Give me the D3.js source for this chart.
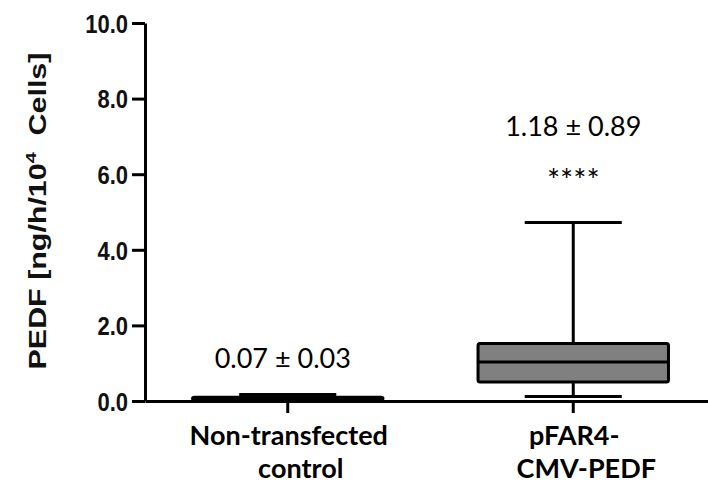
<!DOCTYPE html>
<html lang="en">
<head>
<meta charset="utf-8">
<title>PEDF secretion box plot</title>
<script src="https://d3js.org/d3.v7.min.js"></script>
<style>
  body { margin: 0; background: #fff; }
  svg { display: block; }
  .axis path, .axis line { stroke: #000; stroke-width: 3; }
  .axis text { font-family: "Liberation Sans", Arial, sans-serif; font-weight: bold; font-size: 22px; fill: #111; }
  .calib { font-family: Lato, "Open Sans", sans-serif; fill: #000; }
</style>
</head>
<body>
<script>
const width = 708, height = 485;

// data
const groups = ["Non-transfected control", "pFAR4-CMV-PEDF"];
const labelLines = [["Non-transfected", "control"], ["pFAR4-", "CMV-PEDF"]];
const whiskerLow = [0.01, 0.12];
const q1 = [0.03, 0.50];
const median = [0.06, 1.03];
const q3 = [0.10, 1.52];
const whiskerHigh = [0.17, 4.72];
const meanSd = ["0.07 ± 0.03", "1.18 ± 0.89"];
const signif = ["", "****"];
const yTicks = [0, 2, 4, 6, 8, 10];

const plotLeft = 145, plotBottom = 401, plotTop = 23;

const svg = d3.select("body").append("svg")
  .attr("width", width).attr("height", height);

const x = d3.scaleBand().domain(groups).range([plotLeft, 716]).padding(0);
const y = d3.scaleLinear().domain([0, 10]).range([plotBottom, plotTop]);

const bw = x.bandwidth();
const cx = g => x(g) + bw / 2;

// axes
svg.append("g").attr("class", "axis")
  .attr("transform", `translate(0,${plotBottom})`)
  .call(d3.axisBottom(x).tickSize(12).tickSizeOuter(0).tickFormat(""));

const yAxis = svg.append("g").attr("class", "axis")
  .attr("transform", `translate(${plotLeft},0)`)
  .call(d3.axisLeft(y).tickValues(yTicks).tickSize(13).tickSizeOuter(0).tickPadding(4).tickFormat(d3.format(".1f")));
// taller, narrow digits like the original
yAxis.selectAll(".tick text")
  .attr("dy", null)
  .attr("dominant-baseline", "central")
  .attr("transform", function() { return `translate(${this.getAttribute("x")},0) scale(1,1.2)`; })
  .attr("x", 0);

// boxes
const data = groups.map((g, i) => ({g, lo: whiskerLow[i], q1: q1[i], med: median[i], q3: q3[i], hi: whiskerHigh[i]}));
const boxW = bw * 0.667, capW = bw * 0.34;
const box = svg.append("g").selectAll("g").data(data).join("g");

box.append("line")
  .attr("x1", d => cx(d.g)).attr("x2", d => cx(d.g))
  .attr("y1", d => y(d.lo)).attr("y2", d => y(d.hi))
  .attr("stroke", "#000").attr("stroke-width", 3);
box.selectAll(".cap").data(d => [d.lo, d.hi].map(v => ({g: d.g, v}))).join("line")
  .attr("x1", d => cx(d.g) - capW / 2).attr("x2", d => cx(d.g) + capW / 2)
  .attr("y1", d => y(d.v)).attr("y2", d => y(d.v))
  .attr("stroke", "#000").attr("stroke-width", 3);
box.append("rect")
  .attr("x", d => cx(d.g) - boxW / 2).attr("width", boxW)
  .attr("y", d => y(d.q3)).attr("height", d => y(d.q1) - y(d.q3))
  .attr("rx", 2)
  .attr("fill", "#808080").attr("stroke", "#000").attr("stroke-width", 3);
box.append("line")
  .attr("x1", d => cx(d.g) - boxW / 2).attr("x2", d => cx(d.g) + boxW / 2)
  .attr("y1", d => y(d.med)).attr("y2", d => y(d.med))
  .attr("stroke", "#000").attr("stroke-width", 3);

// text helper
function stext(x0, y0, str, size, weight, fill) {
  return svg.append("text").attr("class", "calib")
    .attr("x", x0).attr("y", y0)
    .attr("text-anchor", "middle")
    .style("font-size", size + "px").style("font-weight", weight)
    .attr("fill", fill || "#000")
    .text(str);
}

// mean ± sd annotations
stext(cx(groups[0]) - 5, 368, meanSd[0], 27, 400);
stext(cx(groups[1]), 136, meanSd[1], 27, 400);
stext(cx(groups[1]), 191, signif[1], 31, 400, "#333");

// category labels
labelLines.forEach((lines, i) => {
  stext(cx(groups[i]) + 1, 445, lines[0], 27, 700);
  stext(cx(groups[i]) + 13, 478, lines[1], 27, 700);
});

// y title
const yt = svg.append("text")
  .attr("text-anchor", "middle")
  .style("font-family", "'Liberation Sans', Arial, sans-serif")
  .style("font-weight", "bold").style("font-size", "23px")
  .attr("fill", "#111");
yt.append("tspan").text("PEDF [ng/h/10");
yt.append("tspan").attr("dy", -10).style("font-size", "15px").text("4");
yt.append("tspan").attr("dy", 10).text("\u00a0 Cells]");
const len = yt.node().getComputedTextLength();
yt.attr("transform", `translate(46,211) rotate(-90) scale(${317 / len},1)`);
</script>
</body>
</html>
